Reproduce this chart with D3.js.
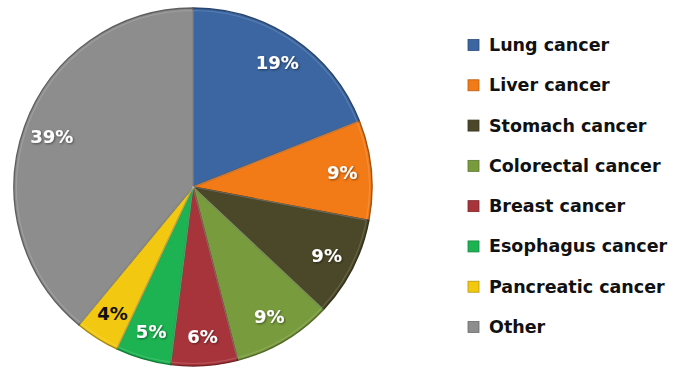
<!DOCTYPE html>
<html>
<head>
<meta charset="utf-8">
<script src="https://cdn.jsdelivr.net/npm/d3@7"></script>
<style>
  html, body { margin: 0; padding: 0; background: #ffffff; }
  svg { display: block; }
</style>
</head>
<body>
<svg id="chart" width="687" height="369"></svg>
<script>
// Share of cancer deaths by type
const categories = ["Lung cancer", "Liver cancer", "Stomach cancer", "Colorectal cancer",
                    "Breast cancer", "Esophagus cancer", "Pancreatic cancer", "Other"];
const shares = [19, 9, 9, 9, 6, 5, 4, 39];
const colors = ["#3b66a1", "#f27a17", "#4b4729", "#789b3d", "#a8343b", "#1db352", "#f2c811", "#8d8d8d"];
const labelColors = ["#ffffff", "#ffffff", "#ffffff", "#ffffff", "#ffffff", "#ffffff", "#111111", "#ffffff"];

const svg = d3.select("#chart");
const cx = 193, cy = 187, R = 179, labelR = 150;
const fontFamily = "'DejaVu Sans', sans-serif";

const defs = svg.append("defs");
const shadow = defs.append("filter").attr("id", "txtShadow")
  .attr("x", "-20%").attr("y", "-20%").attr("width", "140%").attr("height", "140%");
shadow.append("feDropShadow").attr("dx", 1).attr("dy", 1).attr("stdDeviation", 0.8)
  .attr("flood-color", "#000").attr("flood-opacity", 0.45);

const color = d3.scaleOrdinal().domain(categories).range(colors);

const pie = d3.pie().value(d => d.value).sort(null);
const arcs = pie(categories.map((c, i) => ({ name: c, value: shares[i], lc: labelColors[i] })));
const arc = d3.arc().innerRadius(0).outerRadius(R);
const innerEdge = d3.arc().innerRadius(0).outerRadius(R - 2.5);
const labelArc = d3.arc().innerRadius(labelR).outerRadius(labelR);

const g = svg.append("g").attr("transform", `translate(${cx},${cy})`);

// slices with a dark rim
g.selectAll("path.slice").data(arcs).join("path")
  .attr("class", "slice")
  .attr("d", arc)
  .attr("fill", d => color(d.data.name))
  .attr("stroke", d => d3.color(color(d.data.name)).darker(1.1))
  .attr("stroke-width", 1.4)
  .attr("stroke-linejoin", "round");

// soft light bevel just inside each slice edge
g.selectAll("path.bevel").data(arcs).join("path")
  .attr("class", "bevel")
  .attr("d", innerEdge)
  .attr("fill", "none")
  .attr("stroke", "#ffffff")
  .attr("stroke-opacity", 0.15)
  .attr("stroke-width", 1.2)
  .attr("stroke-linejoin", "round");

g.selectAll("text.pct").data(arcs).join("text")
  .attr("class", "pct")
  .attr("transform", d => `translate(${labelArc.centroid(d)})`)
  .attr("text-anchor", "middle")
  .attr("dominant-baseline", "central")
  .attr("font-family", fontFamily)
  .attr("font-weight", 700)
  .attr("font-size", 18)
  .attr("fill", d => d.data.lc)
  .attr("filter", d => d.data.lc === "#ffffff" ? "url(#txtShadow)" : null)
  .text(d => d.data.value + "%");

// Legend
const legendY = d3.scalePoint().domain(categories).range([45, 327]);
const legend = svg.append("g");
const item = legend.selectAll("g").data(categories).join("g")
  .attr("transform", d => `translate(468,${legendY(d)})`);
item.append("rect")
  .attr("x", 0).attr("y", -5.5).attr("width", 11).attr("height", 11)
  .attr("fill", d => color(d))
  .attr("stroke", d => d3.color(color(d)).darker(0.8))
  .attr("stroke-width", 0.8);
item.append("text")
  .attr("x", 21).attr("y", 0)
  .attr("dominant-baseline", "central")
  .attr("font-family", fontFamily)
  .attr("font-weight", 700)
  .attr("font-size", 17.5)
  .attr("fill", "#111")
  .text(d => d);
</script>
</body>
</html>
